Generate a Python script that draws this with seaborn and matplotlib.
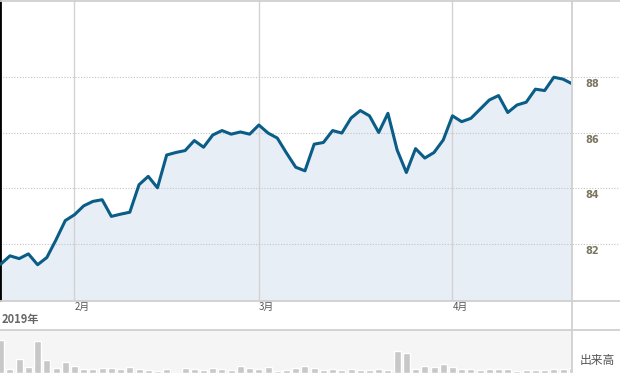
import pandas as pd
import matplotlib.pyplot as plt
import matplotlib.transforms as mtransforms
from matplotlib.lines import Line2D
import seaborn as sns

# daily close, one value per trading day (mid Jan - Apr 2019)
close = [81.27, 81.57, 81.47, 81.64, 81.25, 81.51, 82.15, 82.84, 83.05, 83.37,
         83.53, 83.59, 82.99, 83.07, 83.14, 84.13, 84.43, 84.02, 85.20, 85.29,
         85.36, 85.72, 85.48, 85.92, 86.08, 85.95, 86.03, 85.95, 86.28, 85.99,
         85.81, 85.27, 84.76, 84.63, 85.59, 85.65, 86.08, 85.99, 86.53, 86.80,
         86.61, 86.01, 86.70, 85.38, 84.57, 85.43, 85.09, 85.29, 85.74, 86.61,
         86.40, 86.52, 86.85, 87.18, 87.34, 86.73, 87.00, 87.10, 87.57, 87.52,
         88.00, 87.93, 87.76]

# volume (thousand shares), same days
volume = [330, 40, 140, 63, 320, 130, 53, 110, 70, 40,
          40, 53, 53, 40, 63, 40, 30, 20, 40, 0,
          53, 40, 30, 53, 40, 30, 70, 53, 40, 63,
          20, 30, 53, 70, 53, 30, 40, 30, 40, 30,
          30, 40, 30, 220, 197, 40, 70, 63, 90, 63,
          40, 40, 30, 40, 40, 40, 20, 30, 30, 30,
          40, 40, 53]

month_pos = [8, 28, 49]
month_labels = ['2月', '3月', '4月']
price_ticks = [82, 84, 86, 88]
year_label = '2019年'
vol_label = '出来高'

df = pd.DataFrame({'day': range(len(close)), 'close': close, 'volume': volume})

sns.set_style('white')
plt.rcParams['font.family'] = ['Noto Sans CJK JP', 'DejaVu Sans']

W, H = 620, 373


def box(x0, y0, x1, y1):
    # pixel box -> figure fraction rect
    return [x0 / W, 1 - y1 / H, (x1 - x0) / W, (y1 - y0) / H]


fig = plt.figure(figsize=(W / 100, H / 100), dpi=100)
ax = fig.add_axes(box(0, 0, 571, 300))
ax_vol = fig.add_axes(box(0, 330, 571, 373))

# price panel
ax.fill_between(df['day'], df['close'], 79, color='#e8eef5', zorder=1, lw=0)
sns.lineplot(data=df, x='day', y='close', ax=ax, color='#0a5d86', lw=2.2, zorder=3)

for p in month_pos:
    ax.axvline(p, color='#d3d3d3', lw=1, zorder=2)
for v in price_ticks:
    ax.axhline(v, xmin=0, xmax=W / 571, color='#c4c4c4', lw=0.8,
               ls=(0, (1, 1.5)), clip_on=False, zorder=2)

ax.set_xlim(-0.08, 61.86)
ax.set_ylim(79.98, 90.78)
ax.set_xlabel('')
ax.set_ylabel('')

ax.set_xticks(month_pos)
ax.set_xticklabels(month_labels, ha='left', fontsize=7, color='#555555')
ax.tick_params(axis='x', length=0, pad=1.5)

ax.set_yticks(price_ticks)
ax.yaxis.tick_right()
ax.tick_params(axis='y', length=0, pad=10, labelsize=7, labelcolor='#7a7660')
shift = mtransforms.ScaledTranslation(0, -0.06, fig.dpi_scale_trans)
for lbl in ax.get_yticklabels():
    lbl.set_fontweight('bold')
    lbl.set_family('DejaVu Sans')
    lbl.set_transform(lbl.get_transform() + shift)

for s in ax.spines.values():
    s.set_visible(False)
ax.spines['left'].set_visible(True)
ax.spines['left'].set_color('black')
ax.spines['left'].set_linewidth(2)

# volume panel
ax_vol.set_facecolor('#f5f5f5')
sns.barplot(data=df, x='day', y='volume', ax=ax_vol, color='#c8c8c8',
            saturation=1, width=0.76)
ax_vol.set_xlim(-0.08, 61.86)
ax_vol.set_ylim(0, 430)
ax_vol.set_xticks([])
ax_vol.set_yticks([])
ax_vol.set_xlabel('')
ax_vol.set_ylabel('')
for s in ax_vol.spines.values():
    s.set_visible(False)

# frame lines
line_kw = dict(color='#d0d0d0', lw=1.3, transform=fig.transFigure)
fig.add_artist(Line2D([0, 1], [1 - 300.5 / H] * 2, **line_kw))
fig.add_artist(Line2D([0, 1], [1 - 329.5 / H] * 2, **line_kw))
fig.add_artist(Line2D([571.5 / W] * 2, [0, 1], **line_kw))
fig.add_artist(Line2D([0, 1], [1 - 0.5 / H] * 2, **line_kw))

fig.text(2 / W, 1 - 319 / H, year_label, fontsize=8, fontweight='bold',
         color='#666666', va='center')
fig.text(597.5 / W, 1 - 360.5 / H, vol_label, fontsize=8.5, color='#555555',
         ha='center', va='center')

fig.savefig('out.png', dpi=100)
